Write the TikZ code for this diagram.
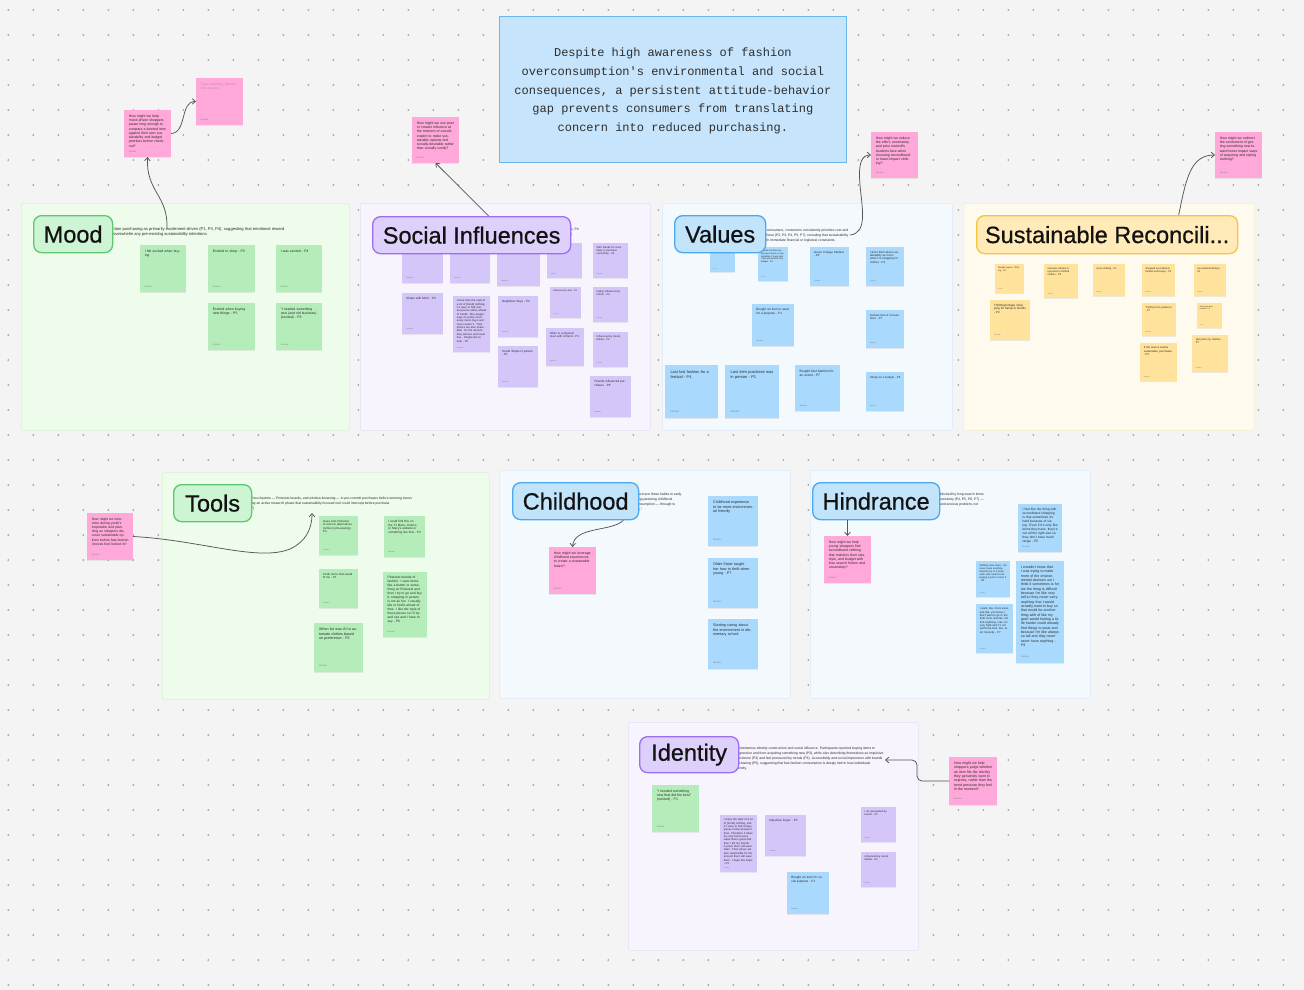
\documentclass[tikz,border=0pt]{standalone}
\usepackage{fontspec}
\setmainfont{Liberation Sans}
\newfontfamily\probfont{Liberation Mono}
\newfontfamily\labfont{Liberation Sans}[FakeBold=0.7]
\usetikzlibrary{arrows.meta,shadows}
\definecolor{bgc}{HTML}{F4F4F4}
\definecolor{dotc}{HTML}{A5A5A5}
\definecolor{probfill}{HTML}{C6E4FB}
\definecolor{probdraw}{HTML}{6CB6EE}
\definecolor{probtext}{HTML}{2E2E2E}
\definecolor{ngreen}{HTML}{B4EDBA}
\definecolor{npurple}{HTML}{D5C6FA}
\definecolor{nblue}{HTML}{A9D9FC}
\definecolor{nyellow}{HTML}{FFE29C}
\definecolor{npink}{HTML}{FFA8D9}
\definecolor{fgreen}{HTML}{EDFCEB}
\definecolor{fgreend}{HTML}{D8F2D4}
\definecolor{fpurple}{HTML}{F7F4FE}
\definecolor{fpurpled}{HTML}{E6DEFA}
\definecolor{fblue}{HTML}{F4F9FE}
\definecolor{fblued}{HTML}{DCEAF8}
\definecolor{fyellow}{HTML}{FFFAEE}
\definecolor{fyellowd}{HTML}{F7EBCB}
\definecolor{lgreen}{HTML}{CDF4D3}
\definecolor{lgreend}{HTML}{5EC770}
\definecolor{lpurple}{HTML}{DDD0FB}
\definecolor{lpurpled}{HTML}{9C6EF2}
\definecolor{lblue}{HTML}{C2E4FB}
\definecolor{lblued}{HTML}{4BA8F0}
\definecolor{lyellow}{HTML}{FFEAB8}
\definecolor{lyellowd}{HTML}{F6C443}
\definecolor{labtext}{HTML}{121212}
\definecolor{notetext}{HTML}{2A2A2A}
\definecolor{authc}{HTML}{858585}
\definecolor{desctext}{HTML}{2A2A2A}
\definecolor{arrowc}{HTML}{555555}
\definecolor{placeholder}{HTML}{C290AA}

\newcommand\snote[7]{%
  \pgfmathsetmacro\snfs{#4/13.5}%
  \pgfmathsetmacro\snls{#4/13.5*1.22}%
  \pgfmathsetmacro\sntw{#4*0.8}%
  \pgfmathsetmacro\snpad{#4*0.1}%
  \pgfmathsetmacro\snafs{#4*0.045}%
  \node[notebox, fill=#6, minimum width=#4pt, minimum height=#5pt, anchor=north west] (#1) at (#2,#3) {};%
  \node[notetxt, text width=\sntw pt, font=\fontsize{\snfs}{\snls}\selectfont] at ([shift={(\snpad pt,-\snpad pt)}]#1.north west) {#7};%
  \node[noteauth, font=\fontsize{\snafs}{\snafs}\selectfont] at ([shift={(\snpad pt,\snpad pt)}]#1.south west) {Member};%
}
\newcommand\lab[8]{\node[labbox, fill=#6, draw=#7, minimum width=#4pt, minimum height=#5pt, anchor=north west] (#1) at (#2,#3) {#8};}
\newcommand\frm[7]{\node[frmbox, fill=#6, draw=#7, minimum width=#4pt, minimum height=#5pt, anchor=north west] (#1) at (#2,#3) {};}

\begin{document}
\begin{tikzpicture}[x=1pt,y=-1pt,
  notebox/.style={inner sep=0pt, outer sep=0pt, drop shadow={shadow xshift=0pt, shadow yshift=-0.6pt, opacity=0.14}},
  notetxt/.style={anchor=north west, inner sep=0pt, align=left, text=notetext},
  noteauth/.style={anchor=south west, inner sep=0pt, text=authc},
  labbox/.style={rounded corners=8pt, line width=1.3pt, inner sep=0pt, font=\labfont\fontsize{23.5}{26}\selectfont, text=labtext},
  frmbox/.style={rounded corners=2pt, line width=0.6pt, inner sep=0pt},
  desc/.style={anchor=north west, inner sep=0pt, align=left, font=\fontsize{3.4}{5}\selectfont, text=desctext},
  conn/.style={draw=arrowc, line width=0.75pt, -{Straight Barb[length=3.2pt,width=5.5pt]}}
]
\useasboundingbox (0,0) rectangle (1304,990);
\fill[bgc] (0,0) rectangle (1304,990);
\foreach \i in {0,...,52} \foreach \j in {0,...,39} \fill[dotc] (8.3+25*\i,10+25*\j) circle (1.05pt);

% problem statement
\node[draw=probdraw, fill=probfill, line width=0.8pt, inner sep=0pt, minimum width=347pt, minimum height=146pt, anchor=north west] (prob) at (499,16) {};
\node[align=center, text=probtext, font=\probfont\fontsize{12}{18.8}\selectfont] (probtxt) at ([yshift=-1.5pt]prob.center) {Despite high awareness of fashion\\overconsumption's environmental and social\\consequences, a persistent attitude-behavior\\gap prevents consumers from translating\\concern into reduced purchasing.};

% frames
\frm{fmood}{21}{203}{328}{227}{fgreen}{fgreend}
\frm{fsoc}{360}{203}{290}{227}{fpurple}{fpurpled}
\frm{fval}{662}{203}{290}{227}{fblue}{fblued}
\frm{fsus}{963}{203}{291}{227}{fyellow}{fyellowd}
\frm{ftool}{162}{472}{327}{227}{fgreen}{fgreend}
\frm{fchild}{499}{470}{291}{228}{fblue}{fblued}
\frm{fhind}{810}{470}{280}{228}{fblue}{fblued}
\frm{fid}{628}{722}{290}{228}{fpurple}{fpurpled}

% descriptions (partly hidden behind the labels)
\node[desc, font=\fontsize{4.1}{5}\selectfont] (dmood) at (110,227.5) {ention purchasing as primarily excitement-driven (P1, P3, P4), suggesting that emotional reward\\s overwhelm any pre-existing sustainability intentions.};
\node[desc] (dsoc) at (566,228) {ents, P4\\me)};
\node[desc] (dval) at (763,228.5) {ld consumers, consumers consistently prioritize cost and\\ll these (P2, P3, P4, P5, P7), revealing that sustainability\\with immediate financial or logistical constraints.};
\node[desc] (dtool) at (249,496.5) {ial touchpoints --- Pinterest boards, and window-browsing --- in pre-commit purchases before entering stores\\ding an active research phase that sustainability-focused tool could intercept before purchase\\s.")};
\node[desc] (dchild) at (637,492.5) {ow trace these habits to early\\ing parenting childhood\\onsumption --- through to\\ts."};
\node[desc] (dhind) at (937,492.5) {e blocked by long search times\\uncertainty (P4, P5, P6, P7) ---\\n and anxious problem, not};
\node[desc] (did) at (736,746.5) {ly intertwines identity construction and social influence. Participants reported buying items to\\regression and from acquiring something new (P3), while also describing themselves as impulsive\\ual desire (P2) and feel pressured by trends (P3). Accessibility and social impression with brands\\urchasing (P5), suggesting that fast fashion consumption is deeply tied to how individuals\\dentity.};

% ---- Mood
\snote{m1}{140}{245}{46}{47}{ngreen}{I felt excited when buying}
\snote{m2}{208}{245}{47}{47}{ngreen}{Excited to shop - P3}
\snote{m3}{276}{245}{46}{47}{ngreen}{I was excited - P4}
\snote{m4}{208}{303}{47}{47}{ngreen}{Excited when buying new things - P5}
\snote{m5}{276}{303}{46}{47}{ngreen}{"I needed something new (and old business) (excited) - P3}
\snote{hm1}{124}{110}{47}{47}{npink}{How might we help mood-driven shoppers pause long enough to compare a desired item against their own sustainability and budget priorities before checkout?}
\snote{hm0}{196}{78}{47}{47}{npink}{\textcolor{placeholder}{Type anything, @mention anyone}}

% ---- Social influences
\snote{s1}{402}{243}{41}{40}{npurple}{Shops with friends - P1}
\snote{s2}{450}{243}{40}{40}{npurple}{Trend shopping - P2}
\snote{s3}{497}{243}{43}{43}{npurple}{Shops with friends in person - P2}
\snote{s4}{547}{243}{35}{35}{npurple}{Trends - P4}
\snote{s5}{593}{243}{35}{35}{npurple}{With friends it's more likely to purchase something - P6}
\snote{s6}{402}{293}{41}{41}{npurple}{Shops with Mom - P3}
\snote{s7}{453}{296}{37}{56}{npurple}{Jenna likes the style of a lot of [trend] clothing, it's easy to find market pieces online ahead of trends. She always says it's pretty much every trend, buys and never wears it. Their photos are also shareable. It's the amount they will use and never buy - People like to help - P5}
\snote{s8}{498}{296}{40}{41}{npurple}{Neighbour buys - P2}
\snote{s9}{498}{346}{40}{41}{npurple}{Social Shops in person - P1}
\snote{s10}{550}{287}{31}{31}{npurple}{Influenced by Ads - P3}
\snote{s11}{546}{328}{38}{38}{npurple}{Often to a physical store with a friend - P3}
\snote{s12}{593}{287}{35}{35}{npurple}{Highly influenced by trends - P4}
\snote{s13}{593}{332}{35}{35}{npurple}{Influenced by Social Media - P4}
\snote{s14}{590}{376}{41}{41}{npurple}{Friends influenced purchases - P6}
\snote{hs}{412}{117}{47}{46}{npink}{How might we use peer or creator influence at the moment of consideration to make sustainable options feel socially desirable rather than socially costly?}

% ---- Values
\snote{v1}{710}{245}{25}{27}{nblue}{}
\snote{v2}{758}{247}{30}{34}{nblue}{I would not base my buying choices on sustainability, I'd get what I like and what fits the budget - P4}
\snote{v3}{810}{247}{39}{39}{nblue}{Green College Student - P2}
\snote{v4}{866}{247}{38}{39}{nblue}{I don't think about sustainability as much when I'm shopping for clothes - P3}
\snote{v5}{752}{304}{42}{42}{nblue}{Bought an item to wear for a purpose - P1}
\snote{v6}{866}{310}{38}{38}{nblue}{Follows Gen-Z Conventions - P7}
\snote{v7}{665}{365}{53}{53}{nblue}{Last fast fashion for a festival - P4}
\snote{v8}{725}{365}{54}{53}{nblue}{Last item purchase was in person - P1}
\snote{v9}{795}{365}{45}{46}{nblue}{Bought fast fashion for an event - P7}
\snote{v10}{866}{372}{38}{39}{nblue}{Shops on a budget - P3}
\snote{hv}{871}{132}{47}{46}{npink}{How might we reduce the effort, uncertainty, and price tradeoffs students face when choosing secondhand or lower-impact clothing?}

% ---- Sustainable reconciliation
\snote{y1}{995}{264}{29}{29}{nyellow}{Durable pieces, Thrifting - P4}
\snote{y2}{1044}{264}{34}{34}{nyellow}{Genuine interest in upcycled or thrifted clothes - P5}
\snote{y3}{1093}{264}{32}{32}{nyellow}{Some thrifting - P3}
\snote{y4}{1142}{264}{33}{32}{nyellow}{Shopped secondhand, thrifted and Depop - P2}
\snote{y5}{1194}{264}{32}{32}{nyellow}{Secondhand lifestyle - P6}
\snote{y6}{990}{300}{40}{40}{nyellow}{Thrifting/vintage shopping for family \& friends - P2}
\snote{y7}{1142}{303}{34}{33}{nyellow}{Thrifting from platforms - P7}
\snote{y8}{1197}{303}{25}{25}{nyellow}{Thrift only when needed - P4}
\snote{y9}{1140}{343}{37}{38}{nyellow}{If the source seems sustainable, purchases - P5}
\snote{y10}{1192}{335}{36}{37}{nyellow}{Upcycles my clothes - P7}
\snote{hy}{1215}{132}{47}{46}{npink}{How might we redirect the excitement of getting something new toward lower-impact ways of acquiring and styling clothing?}

% ---- Tools
\snote{t1}{319}{516}{39}{39}{ngreen}{Goes onto Pinterest to look for alternatives (online) (old wearing) - P4}
\snote{t2}{384}{516}{41}{41}{ngreen}{I could find this on the TJ Maxx, Costco or Macy's website or something like that - P3}
\snote{t3}{319}{569}{39}{39}{ngreen}{Finds items that would fit me - P1}
\snote{t4}{383}{572}{44}{65}{ngreen}{Pinterest boards of fashion: I save items like a button or something on Pinterest and then I try to go and buy it, shopping in person is not as fun. I usually like to find it ahead of time. I like the style of these pieces so I'll try and see and I have to say - P6}
\snote{t5}{314}{623}{49}{49}{ngreen}{When list was AI to automate clothes based on preference - P2}
\snote{ht}{87}{513}{46}{47}{npink}{How might we intervene during youth's inspiration and planning as shoppers discover sustainable options before fast-fashion choices feel locked in?}

% ---- Childhood
\snote{c1}{708}{496}{50}{50}{nblue}{Childhood experience to be more environmental friendly}
\snote{c2}{708}{558}{50}{50}{nblue}{Older Sister taught her how to thrift when young - P7}
\snote{c3}{708}{619}{50}{50}{nblue}{Starting caring about the environment in elementary school}
\snote{hc}{549}{547}{47}{47}{npink}{How might we leverage childhood experiences to create a sustainable future?}

% ---- Hindrance
\snote{h1}{1018}{504}{44}{48}{nblue}{I feel like the thing with secondhand shopping is that sometimes it's hard because of sizing. Even if it's only like items they have, they're not all the right size so they don't have much range - P5}
\snote{h2}{976}{561}{34}{36}{nblue}{Shifting shoe sizes. I've never seen anything that fits me in a store, and I don't want to be buying it just to return it - P6}
\snote{h3}{976}{604}{37}{49}{nblue}{I want, like, more sizes, and like, you know, I don't want to go to the thrift store and like, not find anything. Like, it's very hard and it's not worth the time, like, at all, honestly - P7}
\snote{h4}{1016}{561}{48}{102}{nblue}{I wouldn't know that I was trying to make more of the environmental decision um I think it sometimes is for me the thing is difficult because I'm like very tall so they never carry anything that I would actually want to buy so that would be another thing with of like my gosh would feeling a little harder could already find things to wear and because I'm like always so tall and they never never have anything - P4}
\snote{hh}{824}{536}{47}{47}{npink}{How might we help young shoppers find secondhand clothing that matches their size, style, and budget with less search friction and uncertainty?}

% ---- Identity
\snote{i1}{652}{785}{47}{47}{ngreen}{"I needed something new that did the best" (excited) - P1}
\snote{i2}{720}{815}{37}{57}{npurple}{I enjoy the style of a lot of [trend] clothing, and it's easy to find unique pieces online ahead of time. Therefore it takes my only trend every week that is good and then I tell my friends. A piece that I will wear often. Their prices are also reasonable for the amount that I will wear them. I hope this helps - P6}
\snote{i3}{765}{815}{41}{41}{npurple}{Impulsive buyer - P3}
\snote{i4}{787}{872}{42}{42}{nblue}{Bought an item for social purpose - P1}
\snote{i5}{861}{807}{35}{35}{npurple}{I am persuaded by trends - P3}
\snote{i6}{861}{852}{35}{35}{npurple}{Influenced by Social Media - P2}
\snote{hi}{949}{757}{48}{48}{npink}{How might we help shoppers judge whether an item fits the identity they genuinely want to express, rather than the trend pressure they feel in the moment?}

% labels
\lab{lmood}{33}{215}{79}{37}{lgreen}{lgreend}{Mood}
\lab{lsoc}{372}{216}{198}{37}{lpurple}{lpurpled}{Social Influences}
\lab{lval}{674}{215}{91}{37}{lblue}{lblued}{Values}
\lab{lsus}{976}{215}{261}{38}{lyellow}{lyellowd}{Sustainable Reconcili...}
\lab{ltool}{173}{484}{78}{37}{lgreen}{lgreend}{Tools}
\lab{lchild}{512}{482}{126}{37}{lblue}{lblued}{Childhood}
\lab{lhind}{812}{482}{127}{37}{lblue}{lblued}{Hindrance}
\lab{lid}{639}{736}{99}{36}{lpurple}{lpurpled}{Identity}

% connectors
\coordinate (moodA) at (167,228);
\coordinate (valA) at (850,235);
\coordinate (toolB) at (312,513);
\coordinate (idB) at (885,760);
\draw[conn] (moodA) .. controls (168,195) and (146,192) .. (hm1.south);
\draw[conn] (hm1.east) .. controls (187,133) and (180,101) .. (hm0.west);
\draw[conn] ([xshift=17pt]lsoc.north) -- (hs.south);
\draw[conn] (valA) .. controls (868,233) and (862,208) .. (860,185) .. controls (858,162) and (862,155) .. (hv.west);
\draw[conn] ([xshift=71.5pt]lsus.north) .. controls (1186,180) and (1190,155) .. (hy.west);
\draw[conn] (ht.east) .. controls (200,540) and (258,562) .. (290,549) .. controls (305,542) and (312,530) .. (toolB);
\draw[conn] ([xshift=-16pt]lchild.south east) .. controls (612,532) and (574,526) .. (hc.north);
\draw[conn] (hh.north |- lhind.south) -- (hh.north);
\draw[conn, rounded corners=5pt] (hi.west) -- (917,781) -- (917,760) -- (idB);
\end{tikzpicture}
\end{document}
